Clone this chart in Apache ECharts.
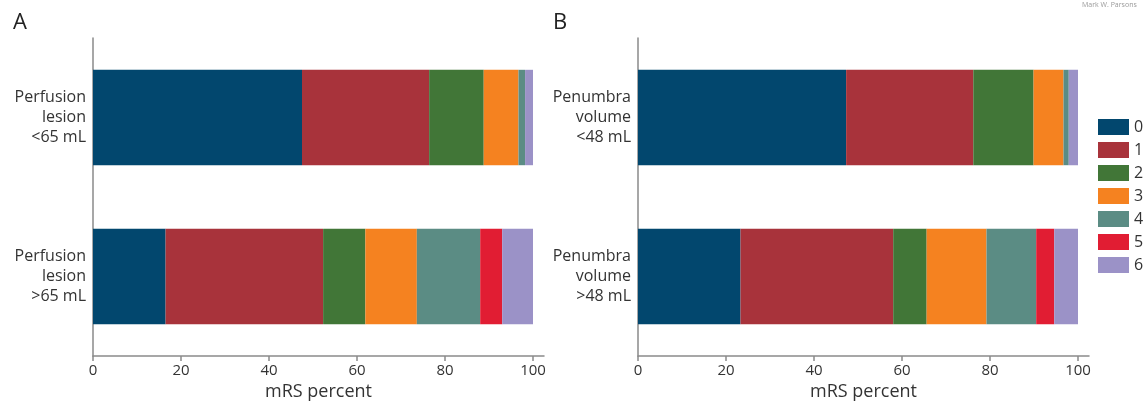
<!DOCTYPE html>
<html>
<head>
<meta charset="utf-8">
<script src="https://cdn.jsdelivr.net/npm/echarts@6/dist/echarts.min.js"></script>
<style>
  html, body { margin: 0; padding: 0; background: #fff; }
  #chart { width: 1148px; height: 406px; }
</style>
</head>
<body>
<div id="chart"></div>
<script>
// mRS grades (legend) and bar colours
const grades = ['0', '1', '2', '3', '4', '5', '6']
const colors = ['#02476e', '#a8333b', '#417637', '#f58220', '#5b8c84', '#e11d33', '#9b92c7']

// panel A: perfusion lesion volume
const catsA = ['Perfusion\nlesion\n<65 mL', 'Perfusion\nlesion\n>65 mL']
const perfusionSmall = [47.5, 28.9, 12.4, 7.9, 1.5, 0, 1.8]
const perfusionLarge = [16.5, 35.8, 9.6, 11.7, 14.4, 5.0, 7.0]

// panel B: penumbra volume
const catsB = ['Penumbra\nvolume\n<48 mL', 'Penumbra\nvolume\n>48 mL']
const penumbraSmall = [47.3, 28.9, 13.7, 6.8, 1.2, 0, 2.1]
const penumbraLarge = [23.3, 34.7, 7.6, 13.6, 11.3, 4.1, 5.4]

const xTicks = [0, 20, 40, 60, 80, 100]

const font = '"Open Sans", "Noto Sans", sans-serif'
const axisGray = '#8a8a8a'
const textColor = '#333'

const xAxisFor = idx => ({
  type: 'value',
  gridIndex: idx,
  min: 0,
  max: 102.5,
  name: 'mRS percent',
  nameLocation: 'middle',
  nameGap: 26,
  nameTextStyle: { fontSize: 18, color: textColor, fontFamily: font },
  axisLine: { show: true, lineStyle: { color: axisGray, width: 1.5 } },
  axisTick: { show: true, length: 5, customValues: xTicks, lineStyle: { color: axisGray, width: 1.5 } },
  axisLabel: { customValues: xTicks, fontSize: 15, color: textColor, fontFamily: font, margin: 7 },
  splitLine: { show: false }
})

const yAxisFor = (idx, cats) => ({
  type: 'category',
  gridIndex: idx,
  data: cats,
  inverse: true,
  axisLine: { show: true, lineStyle: { color: axisGray, width: 1.5 } },
  axisTick: { show: false },
  axisLabel: {
    fontSize: 16,
    lineHeight: 20,
    color: textColor,
    fontFamily: font,
    align: 'right',
    margin: 7
  }
})

const series = []
const panels = [
  [0, perfusionSmall, perfusionLarge],
  [1, penumbraSmall, penumbraLarge]
]
panels.forEach(([idx, small, large]) => {
  grades.forEach((g, i) => {
    series.push({
      name: g,
      type: 'bar',
      stack: 'p' + idx,
      xAxisIndex: idx,
      yAxisIndex: idx,
      barCategoryGap: '40%',
      itemStyle: { color: colors[i] },
      emphasis: { disabled: true },
      data: [small[i], large[i]]
    })
  })
})

const chart = echarts.init(document.getElementById('chart'))
chart.setOption({
  animation: false,
  color: colors,
  textStyle: { fontFamily: font },
  grid: [
    { left: 93, top: 38, width: 451, height: 318 },
    { left: 638, top: 38, width: 451, height: 318 }
  ],
  xAxis: [xAxisFor(0), xAxisFor(1)],
  yAxis: [yAxisFor(0, catsA), yAxisFor(1, catsB)],
  legend: {
    data: grades,
    orient: 'vertical',
    left: 1098,
    top: 119,
    padding: 0,
    itemWidth: 31,
    itemHeight: 16,
    itemGap: 7,
    icon: 'rect',
    selectedMode: false,
    textStyle: { fontSize: 16, color: textColor, fontFamily: font }
  },
  graphic: [
    { type: 'text', left: 13, top: 12, style: { text: 'A', fontSize: 22, fill: '#222', fontFamily: font } },
    { type: 'text', left: 553, top: 12, style: { text: 'B', fontSize: 22, fill: '#222', fontFamily: font } },
    { type: 'text', left: 1082, top: 1, style: { text: 'Mark W. Parsons', fontSize: 7, fill: '#999', fontFamily: font } }
  ],
  series
})
</script>
</body>
</html>
